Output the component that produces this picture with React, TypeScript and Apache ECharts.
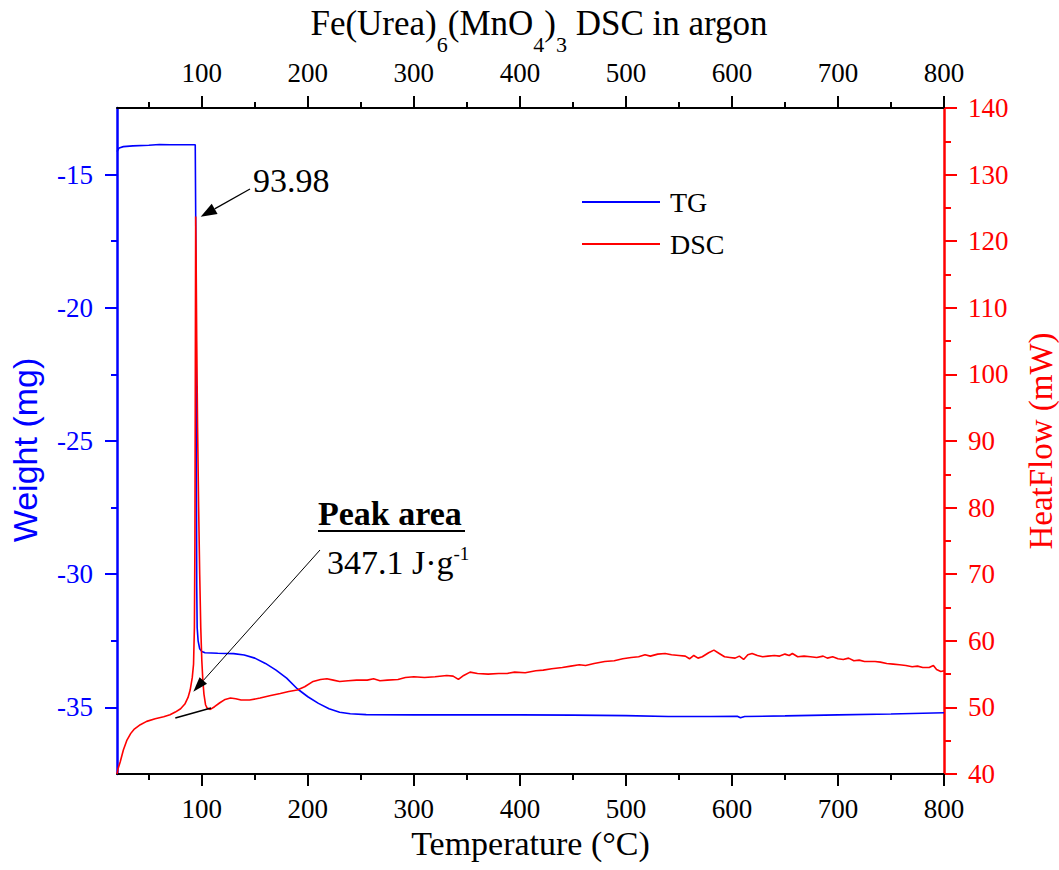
import React, { useEffect, useRef } from "react";
import * as echarts from "echarts";

// TG: [temperature °C, weight mg]
const tgData: [number, number][] = [
  [20, -14.14], [22, -14.0], [26, -13.95], [35, -13.92], [50, -13.9], [60, -13.87], [70, -13.88],
  [80, -13.88], [93.8, -13.88], [94.3, -17], [94.8, -25], [95.2, -30.5], [95.6, -32.0], [96.5, -32.5],
  [98, -32.8], [100, -32.9], [103, -32.95], [115, -32.97], [130, -32.98], [140, -33.03], [150, -33.15],
  [160, -33.35], [170, -33.6], [180, -33.9], [190, -34.3], [200, -34.6], [210, -34.85], [220, -35.05],
  [230, -35.18], [240, -35.24], [255, -35.27], [300, -35.28], [350, -35.28], [400, -35.28], [450, -35.29],
  [500, -35.31], [540, -35.34], [580, -35.34], [605, -35.33], [608, -35.39], [612, -35.34], [650, -35.32],
  [700, -35.28], [750, -35.25], [800, -35.2],
];

// DSC: [temperature °C, heat flow mW]
const dscData: [number, number][] = [
  [20, 40], [21, 40.8], [23, 41.8], [26, 43.6], [29.4, 45.1], [33, 46.1], [36, 46.7], [42, 47.4],
  [48, 47.9], [56, 48.3], [64, 48.6], [70, 48.9], [75, 49.3], [80, 49.8], [84, 50.5], [87, 51.5],
  [89, 52.6], [91, 54.5], [92.2, 56.5], [93, 62], [93.5, 75], [93.8, 95], [94, 110], [94.2, 123.7],
  [94.6, 118], [95.2, 105], [96, 92], [97, 80], [98, 70], [99, 62], [100, 57], [101, 54], [102, 52],
  [103.5, 50.4], [105, 49.9], [108, 49.7], [112, 50.1], [117, 50.7], [122, 51.2], [127, 51.4],
  [132, 51.3], [137, 51.1], [145, 51.1], [155, 51.4], [165, 51.8], [174, 52.1], [182, 52.4], [190, 52.6],
  [197, 53.1], [205, 53.9], [212, 54.2], [218, 54.3], [224, 54.1], [230, 53.9], [238, 54.0], [246, 54.1],
  [256, 54.1], [262, 54.3], [268, 54.0], [275, 54.1], [285, 54.2], [292, 54.5], [300, 54.6], [310, 54.5],
  [320, 54.6], [331, 54.8], [337, 54.7], [342, 54.2], [347, 54.8], [353, 55.3], [360, 55.1], [370, 55.0],
  [380, 55.1], [388, 55.1], [395, 55.3], [405, 55.2], [415, 55.5], [422, 55.6], [430, 55.8], [440, 56.0],
  [448, 56.2], [456, 56.4], [462, 56.3], [470, 56.6], [480, 56.9], [489, 57.0], [497, 57.3], [505, 57.5],
  [512, 57.6], [518, 57.9], [523, 57.7], [530, 58.0], [537, 58.1], [543, 57.9], [550, 57.8], [556, 57.7],
  [560, 57.3], [564, 57.8], [568, 57.4], [572, 57.6], [578, 58.2], [583, 58.6], [588, 58.1], [593, 57.6],
  [598, 57.5], [603, 57.4], [607, 57.7], [611, 57.2], [615, 57.9], [619, 58.1], [624, 57.8], [629, 57.6],
  [634, 57.7], [640, 57.8], [645, 57.7], [650, 58.0], [654, 57.8], [657, 58.1], [662, 57.6], [668, 57.7],
  [674, 57.6], [680, 57.5], [686, 57.7], [690, 57.4], [695, 57.6], [700, 57.3], [705, 57.2], [710, 57.4],
  [715, 57.0], [720, 57.1], [725, 56.9], [731, 56.9], [735, 56.9], [740, 56.8], [746, 56.6], [752, 56.5],
  [758, 56.4], [764, 56.3], [770, 56.1], [775, 56.2], [780, 56.0], [786, 56.0], [790, 56.3], [793, 55.7],
  [797, 55.4], [800, 55.5],
];

// Peak integration baseline
const baselineData: [number, number][] = [[75, 48.4], [108.7, 49.9]];

const xMajorTicks = [100, 200, 300, 400, 500, 600, 700, 800];
const xMinorTicks = [50, 150, 250, 350, 450, 550, 650, 750];
const weightMajorTicks = [-35, -30, -25, -20, -15];
const weightMinorTicks = [-32.5, -27.5, -22.5, -17.5];

const SERIF = "'Liberation Serif', 'Times New Roman', serif";
const SANS = "'Liberation Sans', Arial, sans-serif";
const BLUE = "#0000ff";
const RED = "#ff0000";

function arrow(x1: number, y1: number, x2: number, y2: number, len: number, hw: number, color: string, width: number) {
  const dx = x2 - x1;
  const dy = y2 - y1;
  const d = Math.sqrt(dx * dx + dy * dy);
  const ux = dx / d;
  const uy = dy / d;
  const bx = x2 - ux * len;
  const by = y2 - uy * len;
  const px = -uy;
  const py = ux;
  return [
    { type: "line", shape: { x1, y1, x2: bx, y2: by }, style: { stroke: color, lineWidth: width }, z: 100 },
    {
      type: "polygon",
      shape: { points: [[x2, y2], [bx + px * hw, by + py * hw], [bx - px * hw, by - py * hw]] },
      style: { fill: color },
      z: 100,
    },
  ];
}

export default function App() {
  const ref = useRef<HTMLDivElement>(null);
  useEffect(() => {
    if (!ref.current) return;
    const chart = echarts.init(ref.current, undefined, { renderer: "svg" });
    const tickLabelBase = { fontFamily: SERIF, fontSize: 27 };
    const option: any = {
      animation: false,
      backgroundColor: "#ffffff",
      grid: { left: 117, right: 115, top: 108, bottom: 96, containLabel: false, outerBoundsMode: "none" },
      legend: {
        data: ["TG", "DSC"],
        orient: "vertical",
        left: 582,
        top: 188,
        itemWidth: 78,
        itemHeight: 2,
        itemGap: 14,
        icon: "rect",
        padding: 0,
        textStyle: { fontFamily: SERIF, fontSize: 28, color: "#000", padding: [0, 0, 0, 5], lineHeight: 28 },
      },
      xAxis: [
        {
          type: "value",
          position: "bottom",
          min: 20,
          max: 800,
          axisLine: { show: true, onZero: false, lineStyle: { color: "#000", width: 2 } },
          axisTick: { show: true, customValues: xMajorTicks, length: 12, lineStyle: { color: "#000", width: 2 } },
          axisLabel: { ...tickLabelBase, color: "#000", customValues: xMajorTicks, margin: 21 },
          splitLine: { show: false },
          name: "Temperature (°C)",
          nameLocation: "middle",
          nameGap: 52,
          nameTextStyle: { fontFamily: SERIF, fontSize: 34, color: "#000" },
        },
        {
          type: "value",
          position: "top",
          min: 20,
          max: 800,
          axisLine: { show: true, onZero: false, lineStyle: { color: "#000", width: 2 } },
          axisTick: { show: true, customValues: xMajorTicks, length: 12, lineStyle: { color: "#000", width: 2 } },
          axisLabel: { ...tickLabelBase, color: "#000", customValues: xMajorTicks, margin: 22 },
          splitLine: { show: false },
        },
        {
          type: "value",
          position: "bottom",
          min: 20,
          max: 800,
          axisLine: { show: false, onZero: false },
          axisTick: { show: true, customValues: xMinorTicks, length: 6, lineStyle: { color: "#000", width: 2 } },
          axisLabel: { show: false },
          splitLine: { show: false },
        },
        {
          type: "value",
          position: "top",
          min: 20,
          max: 800,
          axisLine: { show: false, onZero: false },
          axisTick: { show: true, customValues: xMinorTicks, length: 6, lineStyle: { color: "#000", width: 2 } },
          axisLabel: { show: false },
          splitLine: { show: false },
        },
      ],
      yAxis: [
        {
          type: "value",
          position: "left",
          min: -37.5,
          max: -12.5,
          axisLine: { show: true, onZero: false, lineStyle: { color: BLUE, width: 2.5 } },
          axisTick: { show: true, customValues: weightMajorTicks, length: 12, lineStyle: { color: BLUE, width: 2 } },
          axisLabel: { ...tickLabelBase, color: BLUE, customValues: weightMajorTicks, margin: 24 },
          splitLine: { show: false },
          name: "Weight (mg)",
          nameLocation: "middle",
          nameRotate: 90,
          nameGap: 75,
          nameTextStyle: { fontFamily: SANS, fontSize: 34, color: BLUE, padding: [0, 18, 0, 0] },
        },
        {
          type: "value",
          position: "right",
          min: 40,
          max: 140,
          interval: 10,
          axisLine: { show: true, onZero: false, lineStyle: { color: RED, width: 2.5 } },
          axisTick: { show: true, length: 13, lineStyle: { color: RED, width: 2 } },
          minorTick: { show: true, splitNumber: 2, length: 7, lineStyle: { color: RED, width: 2 } },
          axisLabel: { ...tickLabelBase, color: RED, margin: 24 },
          splitLine: { show: false },
          name: "HeatFlow (mW)",
          nameLocation: "middle",
          nameRotate: 90,
          nameGap: 80,
          nameTextStyle: { fontFamily: SERIF, fontSize: 33, color: RED },
        },
        {
          type: "value",
          position: "left",
          min: -37.5,
          max: -12.5,
          axisLine: { show: false, onZero: false },
          axisTick: { show: true, customValues: weightMinorTicks, length: 6, lineStyle: { color: BLUE, width: 2 } },
          axisLabel: { show: false },
          splitLine: { show: false },
        },
      ],
      series: [
        {
          name: "TG",
          type: "line",
          xAxisIndex: 0,
          yAxisIndex: 0,
          data: tgData,
          showSymbol: false,
          symbol: "none",
          lineStyle: { color: BLUE, width: 1.6 },
          itemStyle: { color: BLUE },
        },
        {
          name: "DSC",
          type: "line",
          xAxisIndex: 0,
          yAxisIndex: 1,
          data: dscData,
          showSymbol: false,
          symbol: "none",
          lineStyle: { color: RED, width: 1.6 },
          itemStyle: { color: RED },
        },
        {
          name: "Baseline",
          type: "line",
          xAxisIndex: 0,
          yAxisIndex: 1,
          data: baselineData,
          showSymbol: false,
          symbol: "none",
          lineStyle: { color: "#000", width: 1.6 },
          itemStyle: { color: "#000" },
        },
      ],
      graphic: [
        {
          type: "text",
          x: 539,
          y: 23,
          style: {
            text: "{m|Fe(Urea)}{s|6}{m|(MnO}{s|4}{m|)}{s|3}{m| DSC in argon}",
            align: "center",
            verticalAlign: "middle",
            rich: {
              m: { fontFamily: SERIF, fontSize: 35, lineHeight: 64, fill: "#000" },
              s: { fontFamily: SERIF, fontSize: 22, lineHeight: 22, verticalAlign: "bottom", fill: "#000" },
            },
          },
        },
        {
          type: "text",
          x: 253,
          y: 180,
          style: { text: "93.98", fontFamily: SERIF, fontSize: 34, fill: "#000", align: "left", verticalAlign: "middle" },
        },
        ...arrow(250, 189, 200.7, 216.7, 16, 6, "#000", 1.2),
        {
          type: "text",
          x: 318,
          y: 513,
          style: { text: "Peak area", fontFamily: SERIF, fontSize: 34, fontWeight: "bold", fill: "#000", align: "left", verticalAlign: "middle" },
        },
        { type: "line", shape: { x1: 318, y1: 531, x2: 465, y2: 531 }, style: { stroke: "#000", lineWidth: 2 } },
        {
          type: "text",
          x: 327,
          y: 562,
          style: {
            text: "{m|347.1 J·g}{p|-1}",
            align: "left",
            verticalAlign: "middle",
            rich: {
              m: { fontFamily: SERIF, fontSize: 34, lineHeight: 36, fill: "#000" },
              p: { fontFamily: SERIF, fontSize: 19, lineHeight: 18, verticalAlign: "top", fill: "#000" },
            },
          },
        },
        ...arrow(320, 550, 193.3, 691.7, 15, 5, "#000", 1),
      ],
    };
    chart.setOption(option);
    return () => chart.dispose();
  }, []);
  return (
    <div
      ref={ref}
      style={{ position: "fixed", left: 0, top: 0, width: 1059, height: 870, background: "#fff" }}
    />
  );
}
